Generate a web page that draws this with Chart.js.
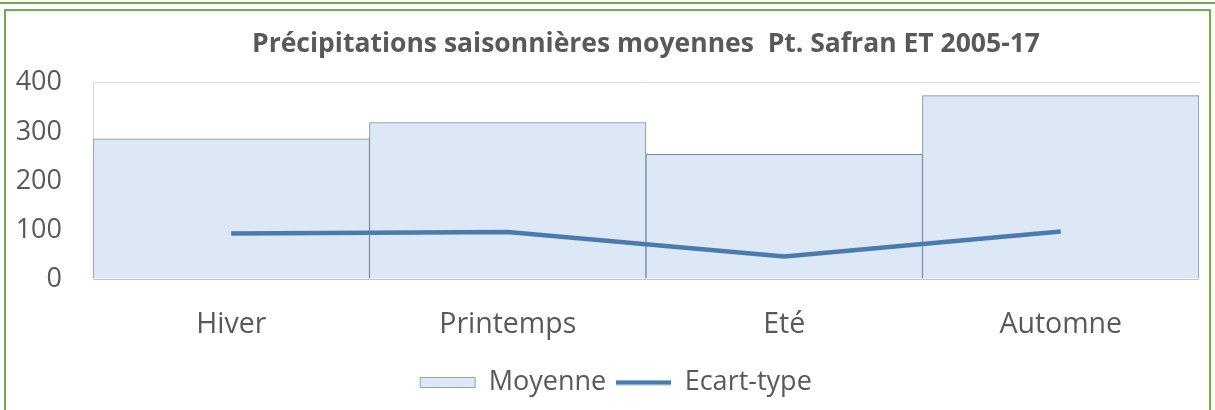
<!DOCTYPE html>
<html>
<head>
<meta charset="utf-8">
<script src="https://cdn.jsdelivr.net/npm/chart.js@4.4.1/dist/chart.umd.min.js"></script>
<style>
  html, body { margin: 0; padding: 0; background: #ffffff; }
  #wrap { position: relative; width: 1215px; height: 410px; overflow: hidden; }
  #topRule { position: absolute; left: 0; top: 2px; width: 1215px; height: 2px; background: #70ad47; }
  #frame { position: absolute; left: 4px; top: 9px; width: 1203px; height: 420px;
           border: 2px solid #70ad47; pointer-events: none; }
  canvas { position: absolute; left: 0; top: 0; }
</style>
</head>
<body>
<div id="wrap">
  <canvas id="chart" width="1215" height="410"></canvas>
  <div id="topRule"></div>
  <div id="frame"></div>
</div>
<script>
// Seasonal precipitation, Safran point, 2005-2017 (mm)
const categories = ['Hiver', 'Printemps', 'Eté', 'Automne'];
const moyenne = [286, 319, 254, 374];
const ecartType = [93, 96, 46, 97];
const yTicks = [0, 100, 200, 300, 400];

const FONT = '"Open Sans", Lato, sans-serif';
const TEXT = '#595959';
const LINE_COLOR = '#4a7aae';

// Legend swatch for the line series: a 55px horizontal stroke
const lineSwatch = document.createElement('canvas');
lineSwatch.width = 55;
lineSwatch.height = 6;
(function () {
  const c = lineSwatch.getContext('2d');
  c.strokeStyle = LINE_COLOR;
  c.lineWidth = 4.5;
  c.beginPath();
  c.moveTo(0, 3);
  c.lineTo(55, 3);
  c.stroke();
})();

// Nudge the legend block so it sits a little right of the canvas centre
const legendShift = {
  id: 'legendShift',
  afterLayout(chart) {
    if (chart.legend) chart.legend.left += 33;
  }
};

new Chart(document.getElementById('chart'), {
  data: {
    labels: categories,
    datasets: [
      {
        type: 'bar',
        label: 'Moyenne',
        data: moyenne,
        backgroundColor: '#dce8f5',
        borderColor: '#76889e',
        borderWidth: { top: 1, left: 1, right: 1, bottom: 0 },
        barPercentage: 1,
        categoryPercentage: 1,
        pointStyle: 'rect',
        order: 1
      },
      {
        type: 'line',
        label: 'Ecart-type',
        data: ecartType,
        borderColor: LINE_COLOR,
        backgroundColor: LINE_COLOR,
        borderWidth: 4.5,
        pointRadius: 0,
        tension: 0,
        pointStyle: lineSwatch,
        order: 0
      }
    ]
  },
  plugins: [legendShift],
  options: {
    responsive: false,
    animation: false,
    layout: { padding: { top: 9, right: 16, bottom: 4, left: 0 } },
    plugins: {
      tooltip: { enabled: false },
      title: {
        display: true,
        text: 'Précipitations saisonnières moyennes  Pt. Safran ET 2005-17',
        color: TEXT,
        font: { family: FONT, size: 26.5, weight: 'bold', lineHeight: 1.2 },
        padding: { top: 20, bottom: 22 },
        fullSize: false
      },
      legend: {
        position: 'bottom',
        labels: {
          usePointStyle: true,
          pointStyleWidth: 55,
          boxHeight: 10,
          padding: 10,
          color: TEXT,
          font: { family: FONT, size: 27 },
          sort: (a, b) => a.datasetIndex - b.datasetIndex
        }
      }
    },
    scales: {
      x: {
        offset: true,
        grid: { display: false },
        border: { display: false },
        ticks: { color: TEXT, font: { family: FONT, size: 28.5 }, padding: 21 },
        afterFit: (scale) => { scale.height = 80; }
      },
      y: {
        min: 0,
        max: 400,
        afterBuildTicks: (scale) => { scale.ticks = yTicks.map(v => ({ value: v })); },
        grid: {
          drawTicks: false,
          color: (ctx) => ctx.tick && ctx.tick.value === 400 ? '#d9d9d9'
                        : (ctx.tick && ctx.tick.value === 0 ? '#c4c4c4' : 'rgba(0,0,0,0)')
        },
        border: { display: true, color: '#d9d9d9' },
        ticks: { color: TEXT, font: { family: FONT, size: 27 }, padding: 31 },
        afterFit: (scale) => { scale.width = 93; }
      }
    }
  }
});
</script>
</body>
</html>
